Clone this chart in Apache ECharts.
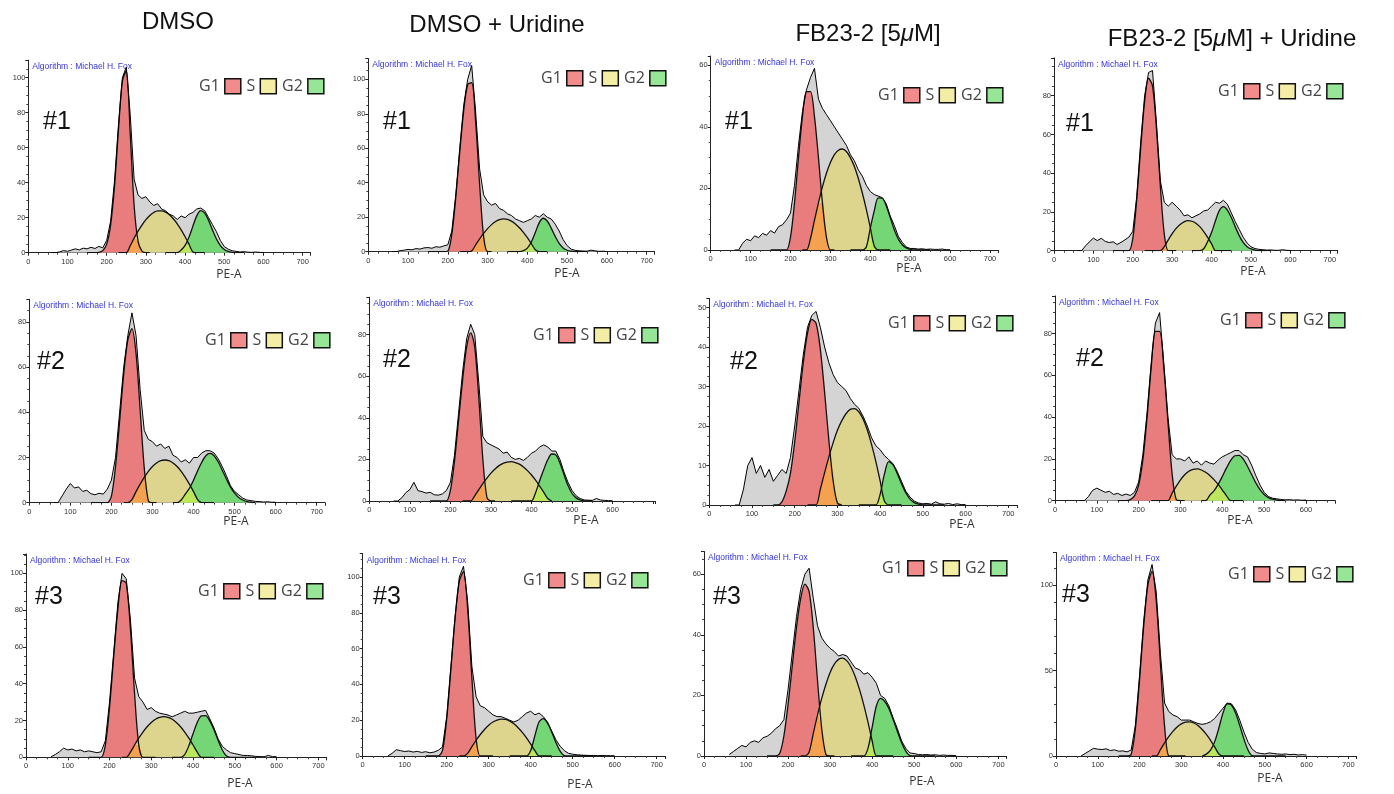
<!DOCTYPE html>
<html>
<head>
<meta charset="utf-8">
<script src="https://cdn.jsdelivr.net/npm/echarts@6/dist/echarts.min.js"></script>
<style>
html, body { margin: 0; padding: 0; background: #fff; }
#main { width: 1394px; height: 794px; }
</style>
</head>
<body>
<div id="main"></div>
<script>
// PE-A positions of the sampled counts
var peHist = [60,70,80,90,100,110,120,130,140,150,160,170,180,190,200,210,220,230,240,250,260,270,280,290,300,310,320,330,340,350,360,370,380,390,400,410,420,430,440,450,460,470,480,490,500,510,520,530,540,550,560,570,580,590,600];
var peG1 = [150,160,170,180,190,200,210,220,230,240,250,260,270,280,290,300,310];
var peS = [230,240,250,260,270,280,290,300,310,320,330,340,350,360,370,380,390,400,410,420,430,440,450];
var peG2 = [350,360,370,380,390,400,410,420,430,440,450,460,470,480,490,500,510,520,530,540,550];

// DMSO
var dmso1Hist = [0,0,0.5,1.2,0.8,1.5,2.2,1.6,2.6,2.2,3.1,2.4,3.6,2.8,7,18,41,73,100,106,79,42,33,31,32,29,27,28,25,24,22,21,19,21,20,22,23,25,25.5,24,20,16,12,7,3.5,2,1.1,0.8,0.4,0.6,0.3,0.2,0.4,0.2,0.1];
var dmso1G1 = [0,0,0,0.2,1.2,4.9,15.8,38,70,98,104,68,27,6.5,0.9,0,0];
var dmso1S = [0,0,0,4,8.3,12.3,15.8,18.9,21.3,23,23.9,23.9,23.2,21.7,19.4,16.5,13,9.1,4.9,0.4,0,0,0];
var dmso1G2 = [0,0,0,0,1.5,4.2,8.9,15.2,21.2,24,22.6,18.4,12.9,7.8,4.1,1.8,0.7,0.2,0,0,0];

var dmso2Hist = [0,0,3,6,8.5,6.5,7,5,5.5,4,3.5,4.2,3.8,6,10,20,40,60,74,84,74,50,32,28,27,25,26,24,25,21,20,18,19,17.5,20,20,22,23,23,22,19.5,16,12,7.5,5,3.5,2,1.2,0.9,0.6,0.5,0.3,0.4,0.2,0.2];
var dmso2G1 = [0,0,0,0,0,2.9,16,36,57,72,77,66,41,15.4,0.8,0,0];
var dmso2S = [0,0,1.4,4.9,8.2,11.2,13.9,16,17.6,18.6,18.9,18.6,17.6,16,13.9,11.2,8.2,4.9,1.4,0,0,0,0];
var dmso2G2 = [0,0,1.2,3.8,6.4,10,14.1,17.9,20.8,21.8,20.8,18.1,14.4,10.5,6.9,4.2,2.3,1.2,0.5,0.2,0];

var dmso3Hist = [0.3,1.5,3,5,4,4.5,3.5,4,3,3.5,3,2.5,3,9,30,57,84,100,97,75,43,33,30,26,27,25,24,23.5,23,22,23,24,25,24,24,24.5,25,25.5,21,16,10,6,4,2.5,2,1.5,1,1,0.8,0.5,0.4,0.3,1,0.4,0.3];
var dmso3G1 = [0,0,0,0,6.6,27,54.7,80.5,96,94.6,70,34.5,6.6,0,0,0,0];
var dmso3S = [0,0,2.8,6.7,10.4,13.7,16.6,18.9,20.7,21.7,22.1,21.7,20.7,18.9,16.6,13.7,10.4,6.7,2.8,0,0,0,0];
var dmso3G2 = [0,0,0,1.5,6.3,12.8,18.9,22.5,22.6,19.8,15,9.2,4,0.7,0,0,0,0,0,0,0];

// DMSO + Uridine
var dmsoU1Hist = [0,0,0.6,0.9,1.3,1.1,1.8,1.5,2.2,2.4,2,2.9,2.6,3.4,4,12,33,60,85,100,108,81,48,33,29,27,28,25,24,22,21,19,18,17,18,19,21,20,22,20,19,16,12,7,3.5,1.5,0.8,0.5,0.4,0.3,0.9,0.5,0.2,0.3,0.1];
var dmsoU1G1 = [0,0,0,0,0,0.3,10,31.5,58,82,97,98,75,39,8.7,0,0];
var dmsoU1S = [0,0,0,0.4,4,7.4,10.6,13.4,15.7,17.5,18.6,19,18.7,17.7,16.1,13.9,11.2,8.1,4.7,1.1,0,0,0];
var dmsoU1G2 = [0,0,0,0,0.6,2.1,5.6,11.1,16.9,19.4,17.8,13.7,8.9,4.8,2.2,0.85,0.3,0,0,0,0];

var dmsoU2Hist = [0,0,1.5,4,5.5,9,5,4.5,3.8,4.2,3,2.8,3.4,5,9,22,42,62,78,85,80,57,31,28,27,26,25,23,23.5,21,20,20.5,19.5,21,23,24,26,27,26,24,24,20,14,9,5,2.5,1.2,0.5,0.4,0.3,1.2,0.5,0.3,0.2,0.1];
var dmsoU2G1 = [0,0,0,0,0,5.1,19,38.5,58,74,80.8,74,49.5,20,1.8,0,0];
var dmsoU2S = [0,0,0,2.5,5.5,8.4,11,13.4,15.4,17,18.1,18.7,18.9,18.5,17.7,16.4,14.6,12.5,10,7.2,4.3,1.2,0];
var dmsoU2G2 = [0,0,0,0,0,0,4,9.7,15,19.8,22.6,22.2,18.3,12.7,7.4,3.6,1.5,0.5,0.1,0,0];

var dmsoU3Hist = [0,1.5,3.5,3,2.5,2.8,2.2,2.6,2,2.4,1.8,2.2,3.2,5,22,50,78,100,106,86,50,33,28,27,25,23,22,22,21,20,19,20,22,24,25,23,24,22,19,14,9,5.5,3,1.5,1,0.7,0.5,0.4,0.3,0.3,0.2,0.3,0.2,0.2,0.1];
var dmsoU3G1 = [0,0,0,0,3.1,20.7,48.5,77,97.5,103,81.8,43.5,9.8,0,0,0,0];
var dmsoU3S = [0,0,1.5,5.2,8.8,12,14.8,17.2,19,20.1,20.6,20.4,19.5,18,15.8,13.2,10.1,6.6,3,0,0,0,0];
var dmsoU3G2 = [0,0,0,0,0,3.1,11.4,19.1,20.9,18.3,13.4,7.6,2.7,0.2,0,0,0,0,0,0,0];

// FB23-2 [5uM]
var fb1Hist = [0,0,2.2,3.5,3,4.6,4,5.4,4.8,6.3,5.5,7.6,8.2,9.8,12,21,34,45,52,56,59,49,46,44,42,40,38,36,34,31,29,26,24,21,19,18,17.5,17,15,11,8,4.5,2.5,1,0.5,0.5,0.3,0.4,0.2,0.3,0.2,0.2,0.3,0.1,0.1];
var fb1G1 = [0,0,0,0,0,4.2,15.3,30,43.4,51.4,51.4,43.4,30,15.3,4.2,0,0];
var fb1S = [0,0,3.7,9.6,15.3,20.5,24.9,28.4,31,32.4,32.8,32,30,27.1,23.2,18.5,13.2,7.3,1.2,0,0,0,0];
var fb1G2 = [0,0,0,0,1,7.1,12.8,16.9,16.8,14.3,10.5,6.6,3.6,1.7,0.7,0.2,0,0,0,0,0];

var fb2Hist = [0,0,4,10,12,8,10,7,9,6,7.5,9,8,12,20,29,38,45,48,49,45,40,36,33,31,30,29,27,25.5,24.5,22.5,20,17,15,14,12.5,11.5,10.5,8.5,6,3.5,2,1,0.5,0.3,0.4,0.2,0.8,0.3,0.2,0.4,0.1,0.3,0.1,0.1];
var fb2G1 = [0,0,0.8,3.5,8,16,26,36,43.5,47,46,39.4,28.5,16.3,6.1,0.5,0];
var fb2S = [0,0,0,4,8.2,12.2,15.8,18.9,21.3,23.1,24.2,24.4,23.6,21.8,19,15.3,11,6.1,1,0,0,0,0];
var fb2G2 = [0,0,0,0,0,2.7,7.8,11,10.2,8,5.4,3.1,1.5,0.6,0.2,0,0,0,0,0,0];

var fb3Hist = [0.5,1.5,2.5,3.5,3,4.5,5,4.5,6,6.5,7.5,9,10,12,22,34,46,55,60,62,52,43,39,37,35.5,34.5,33,33.5,33,31,29,28.5,27,27.5,26,24,20,19,16.5,12.5,9,5,2.5,1,0.8,0.5,0.4,0.5,0.3,0.4,0.2,0.3,0.2,0.2,0.1];
var fb3G1 = [0,0,0,0.8,6.6,17,29.8,42.4,52,56.7,54.3,42.2,24.9,9,0.5,0,0];
var fb3S = [0,0,1.3,7.5,13.5,19,23.7,27.6,30.3,31.9,32.3,31.4,29.3,26.1,21.9,16.9,11.2,5,0,0,0,0,0];
var fb3G2 = [0,0,0,0,2.5,9.5,16.5,19,18,15.6,12,8.1,4.4,1.6,0.1,0,0,0,0,0,0];

// FB23-2 [5uM] + Uridine
var fbU1Hist = [0,0,2.5,4.6,6.5,5.2,6.4,4.8,4.2,4.6,3.2,4.3,5.6,7,10,28,56,80,92,93,66,36,25,23,25,23,21,18,18.5,17,18,19,20.5,21,23,25,24.5,26,24,19.5,15,11,7,4,2,1.1,0.7,0.5,0.3,0.4,0.2,0.2,0.5,0.2,0.1];
var fbU1G1 = [0,0,0,0,0,6.4,26.5,53,77,89,85,63,33,8.3,0,0,0];
var fbU1S = [0,0,0,0,0,2.1,5.6,8.8,11.5,13.5,14.9,15.5,15.2,14.2,12.4,9.9,6.9,3.5,0,0,0,0,0];
var fbU1G2 = [0,0,0,1,4.7,9.5,15.6,20.9,22.7,21,17.1,12.3,7.8,4.3,2.1,0.9,0.3,0,0,0,0];

var fbU2Hist = [0,0,2,5,6,5,4,4.5,3,3.5,2.5,3.2,2.5,4,9,22,42,66,85,90,66,40,22,20,20,19,21,18,19,17,19,18,17.5,19.5,21,22,23,24,24,22,21,17,12,7.5,4,2,1.2,0.9,0.6,0.4,0.5,0.3,0.4,0.2,0.3];
var fbU2G1 = [0,0,0,0.5,2.3,7.5,19.5,39.7,63.9,81,81,64,37.6,12.7,0.4,0,0];
var fbU2S = [0,0,0,0,0,3.6,7,10,12.4,14.1,15,15.2,14.7,13.6,12.1,10.1,7.8,5.1,2.3,0,0,0,0];
var fbU2G2 = [0,0,2.6,4.7,7.8,11.6,15.7,19.3,21.5,21.7,19.9,16.5,12.5,8.5,5.3,3,1.5,0.7,0.3,0,0];

var fbU3Hist = [0,1.5,3,4.5,4,3.8,4.2,3.2,3.6,2.8,3,2.4,3.5,18,47,79,103,112,96,60,31,26,24,23,21,21,21,20,19,18.5,19,20,22,25,28,31,30.5,27,21,14,8,4,2,1.5,1.2,1.8,1.5,1.2,1,1.2,0.8,1,0.6,0.8,0.5];
var fbU3G1 = [0,0,0,0.9,15.8,44.3,76,100,108,90.7,54,17.3,0.1,0,0,0,0];
var fbU3S = [0,0,3.7,7.7,11.3,14.4,17,18.8,19.8,20,19.3,17.8,15.5,12.6,9.2,5.3,1.2,0,0,0,0,0,0];
var fbU3G2 = [0,1.1,3.4,8.4,16.4,25.2,30.5,29.8,25.1,17.8,9.9,3.4,0.2,0,0,0,0,0,0,0,0];

var columnTitles = ['DMSO', 'DMSO + Uridine', 'FB23-2 [5{mu|μ}M]', 'FB23-2 [5{mu|μ}M] + Uridine'];
var replicateTags = ['#1', '#2', '#3'];

// panels row by row
var panels = [
    [dmso1Hist, dmso1G1, dmso1S, dmso1G2], [dmsoU1Hist, dmsoU1G1, dmsoU1S, dmsoU1G2],
    [fb1Hist, fb1G1, fb1S, fb1G2], [fbU1Hist, fbU1G1, fbU1S, fbU1G2],
    [dmso2Hist, dmso2G1, dmso2S, dmso2G2], [dmsoU2Hist, dmsoU2G1, dmsoU2S, dmsoU2G2],
    [fb2Hist, fb2G1, fb2S, fb2G2], [fbU2Hist, fbU2G1, fbU2S, fbU2G2],
    [dmso3Hist, dmso3G1, dmso3S, dmso3G2], [dmsoU3Hist, dmsoU3G1, dmsoU3S, dmsoU3G2],
    [fb3Hist, fb3G1, fb3S, fb3G2], [fbU3Hist, fbU3G1, fbU3S, fbU3G2]
];

// layout: left, top, width, height, x max, y max, y step, last x label
var boxes = [
    [28.3, 60.2, 282.2, 192.5, 720, 110, 20, 700],
    [368.3, 58.6, 286.3, 193.1, 720, 112, 20, 700],
    [710.7, 56, 287.3, 194, 720, 63, 20, 700],
    [1054, 57.9, 283.7, 192.8, 720, 99.5, 20, 700],
    [29.3, 299.3, 295.6, 203.4, 720, 90, 20, 700],
    [369.3, 297.2, 285.5, 203.8, 704, 98, 20, 600],
    [709.3, 298.4, 307.5, 206.6, 720, 52.3, 10, 700],
    [1055, 295.9, 280.3, 204.8, 670, 98, 20, 600],
    [26, 554, 300.7, 203.3, 720, 110.5, 20, 700],
    [362.7, 553.7, 302.4, 202.3, 720, 113, 20, 700],
    [704, 551.5, 302.7, 204.5, 720, 67.5, 20, 700],
    [1056, 552.5, 300.7, 203.5, 720, 119, 50, 700]
];
var legendAt = [[194, 73], [536, 65], [873, 82], [1213, 78], [200, 327], [528, 322], [883, 310], [1215, 307], [193, 578], [518, 567], [877, 555], [1223, 561]];
var tagAt = [[43, 115], [383, 115], [725, 115], [1066, 117], [37, 355], [383, 353], [730, 355], [1076, 352], [35, 590], [373, 590], [713, 590], [1062, 588]];
var peaAt = [[229, 275], [567, 274], [909, 269], [1253, 272], [236, 522], [586, 521], [962, 525], [1240, 521], [240, 784], [580, 785], [922, 782], [1270, 779]];
var titleAt = [[178, 22], [497, 25], [868, 34], [1232, 39]];

var FONT = 'Liberation Sans';
var FILL = {G1: '#e97d7d', S: '#ddd48d', G2: '#75d675', G1S: '#f4a24f', SG2: '#bce75c', hist: '#d4d4d4'};
var KEY = {G1: '#f28c8c', S: '#f3eda6', G2: '#97e597'};

function pairs(xs, ys) {
    return xs.map(function (x, i) { return [x, ys[i]]; });
}
function overlap(xa, ya, xb, yb) {
    var out = [];
    xa.forEach(function (x, i) {
        var j = xb.indexOf(x);
        if (j >= 0) out.push([x, Math.min(ya[i], yb[j])]);
    });
    return out;
}

var grids = [], xAxes = [], yAxes = [], legends = [], series = [], graphics = [];

panels.forEach(function (p, i) {
    var b = boxes[i];
    grids.push({left: b[0], top: b[1], width: b[2], height: b[3], containLabel: false});
    xAxes.push({
        gridIndex: i, type: 'value', min: 0, max: b[4], interval: 100,
        axisLine: {lineStyle: {color: '#222', width: 1}},
        axisTick: {length: 3, lineStyle: {color: '#222'}},
        minorTick: {show: true, splitNumber: 4, length: 2, lineStyle: {color: '#444'}},
        axisLabel: {fontSize: 7.5, color: '#333', margin: 5, fontFamily: FONT,
            formatter: function (v) { return v <= b[7] ? String(v) : ''; }},
        splitLine: {show: false}
    });
    yAxes.push({
        gridIndex: i, type: 'value', min: 0, max: b[5], interval: b[6],
        axisLine: {show: true, lineStyle: {color: '#222', width: 1}},
        axisTick: {show: true, length: 3, lineStyle: {color: '#222'}},
        minorTick: {show: true, splitNumber: b[6] === 50 ? 5 : 4, length: 2, lineStyle: {color: '#444'}},
        axisLabel: {fontSize: 7.5, color: '#333', margin: 3, fontFamily: FONT,
            formatter: function (v) { return v % b[6] === 0 ? String(v) : ''; }},
        splitLine: {show: false}
    });
    legends.push({
        left: legendAt[i][0], top: legendAt[i][1], orient: 'horizontal', align: 'right',
        icon: 'rect', itemWidth: 16, itemHeight: 15, itemGap: 5, selectedMode: false,
        data: ['G1', 'S', 'G2'],
        textStyle: {fontSize: 16, color: '#444', fontFamily: 'Open Sans'},
        itemStyle: {borderColor: '#111', borderWidth: 1.5}
    });

    var base = {type: 'line', xAxisIndex: i, yAxisIndex: i, symbol: 'none', silent: true, animation: false};
    function add(extra) { series.push(Object.assign({}, base, extra)); }

    // gray histogram fill
    add({data: pairs(peHist, p[0]), lineStyle: {width: 0}, areaStyle: {color: FILL.hist, opacity: 1}, z: 1});
    // model components
    add({name: 'G1', color: KEY.G1, data: pairs(peG1, p[1]), smooth: 0.3, lineStyle: {width: 0}, areaStyle: {color: FILL.G1, opacity: 1}, z: 2});
    add({name: 'S', color: KEY.S, data: pairs(peS, p[2]), smooth: 0.3, lineStyle: {width: 0}, areaStyle: {color: FILL.S, opacity: 1}, z: 2});
    add({name: 'G2', color: KEY.G2, data: pairs(peG2, p[3]), smooth: 0.3, lineStyle: {width: 0}, areaStyle: {color: FILL.G2, opacity: 1}, z: 2});
    add({data: overlap(peG1, p[1], peS, p[2]), smooth: 0.3, lineStyle: {width: 0}, areaStyle: {color: FILL.G1S, opacity: 1}, z: 3});
    add({data: overlap(peS, p[2], peG2, p[3]), smooth: 0.3, lineStyle: {width: 0}, areaStyle: {color: FILL.SG2, opacity: 1}, z: 3});
    // outlines
    [[peG1, p[1]], [peS, p[2]], [peG2, p[3]]].forEach(function (c) {
        add({data: pairs(c[0], c[1]), smooth: 0.3, lineStyle: {color: '#111', width: 1.3}, z: 4});
    });
    // histogram trace
    add({data: pairs(peHist, p[0]), lineStyle: {color: '#000', width: 1}, z: 5});

    graphics.push({type: 'text', x: b[0] + 4, y: b[1] + 2, silent: true,
        style: {text: 'Algorithm : Michael H. Fox', fontSize: 8.5, fontFamily: FONT, fill: '#3535d6', verticalAlign: 'top'}});
    graphics.push({type: 'text', x: tagAt[i][0], y: tagAt[i][1] - 5, silent: true,
        style: {text: replicateTags[Math.floor(i / 4)], fontSize: 25, fontFamily: FONT, fill: '#111', verticalAlign: 'top'}});
    graphics.push({type: 'text', x: peaAt[i][0], y: peaAt[i][1], silent: true,
        style: {text: 'PE-A', fontSize: 12, fontFamily: 'Open Sans', fill: '#333', align: 'center', verticalAlign: 'middle'}});
});

columnTitles.forEach(function (t, c) {
    graphics.push({type: 'text', x: titleAt[c][0], y: titleAt[c][1], silent: true,
        style: {text: t, fontSize: 24, fontFamily: FONT, fill: '#111', align: 'center', verticalAlign: 'middle',
            rich: {mu: {fontStyle: 'italic', fontSize: 24, fontFamily: FONT, fill: '#111'}}}});
});

var chart = echarts.init(document.getElementById('main'));
chart.setOption({
    animation: false,
    backgroundColor: '#fff',
    grid: grids,
    xAxis: xAxes,
    yAxis: yAxes,
    legend: legends,
    series: series,
    graphic: graphics
});
</script>
</body>
</html>
